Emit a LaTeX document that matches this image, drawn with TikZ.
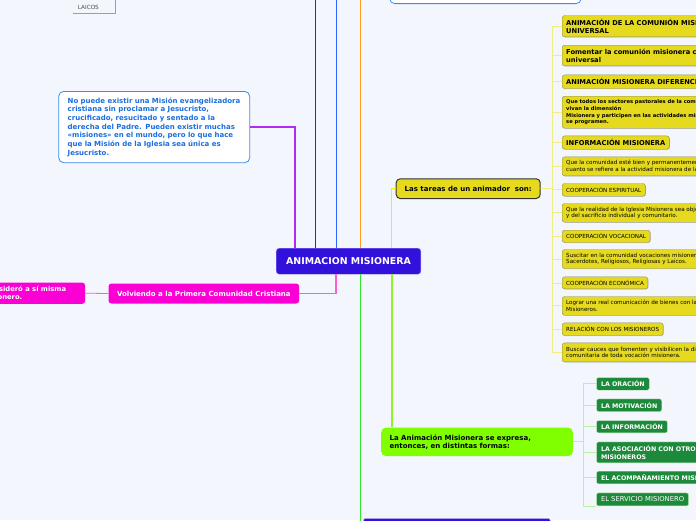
\documentclass[tikz,border=0pt]{standalone}
\usepackage{fontspec}
\setmainfont{DejaVu Sans}
\usepackage{tikz}
\usetikzlibrary{positioning, shadows}
\definecolor{cBg}{HTML}{F3F6FD}
\definecolor{cRoot}{HTML}{3311DD}
\definecolor{cRootLine}{HTML}{A89CF2}
\definecolor{cNote}{HTML}{1A6EE0}
\definecolor{cNoteLine}{HTML}{3C8CF0}
\definecolor{cTask}{HTML}{E6DA1E}
\definecolor{cTaskLine}{HTML}{8C8C66}
\definecolor{cPink}{HTML}{FA00D4}
\definecolor{cLime}{HTML}{80FF00}
\definecolor{cForest}{HTML}{1C8A3A}
\definecolor{cForestLine}{HTML}{CFF0C8}
\definecolor{cLaicos}{HTML}{9D8FF5}
\definecolor{bPurple}{HTML}{B02CF0}
\definecolor{bIndigo}{HTML}{3A18EE}
\definecolor{bBlue}{HTML}{2C66FF}
\definecolor{bOrange}{HTML}{FFA024}
\definecolor{bYellow}{HTML}{F2F000}
\definecolor{bPink}{HTML}{FF5AD8}
\definecolor{bGreen}{HTML}{2EE82E}
\definecolor{bLime}{HTML}{92F22A}
\definecolor{sYellow}{HTML}{F0EE80}
\definecolor{sGreen}{HTML}{B9F0A6}
\tikzset{
	root/.style     ={rectangle, rounded corners=3pt, draw=cRootLine, fill=cRoot, text=white, anchor=north west,
		font=\fontsize{9.4}{11}\selectfont\bfseries, minimum width=144.7pt, minimum height=26pt},
	note/.style     ={rectangle, rounded corners=5pt, draw=cNoteLine, line width=0.8pt, fill=white, text=cNote,
		font=\fontsize{7}{8.65}\selectfont\bfseries, align=left, anchor=north west, inner xsep=9pt,
		text width=173pt, minimum height=71.3pt},
	task/.style     ={rectangle, rounded corners=2.5pt, draw=cTaskLine, fill=cTask, anchor=north west, align=left,
		inner xsep=4pt, inner ysep=1pt, drop shadow={shadow xshift=0.7pt, shadow yshift=-0.7pt, fill=black!30}},
	taskhead/.style ={task, font=\fontsize{6.7}{7.7}\selectfont\bfseries},
	taskmid/.style  ={task, font=\fontsize{5.2}{6.8}\selectfont\bfseries},
	taskline/.style ={task, font=\fontsize{5.6}{6.6}\selectfont},
	heading/.style  ={rectangle, anchor=north west, align=left, inner xsep=8.5pt, font=\fontsize{7}{8.3}\selectfont\bfseries},
	form/.style     ={rectangle, rounded corners=2pt, draw=cForestLine, line width=0.4pt, fill=cForest, text=white,
		anchor=north west, align=left, inner xsep=4.5pt, inner ysep=1pt, font=\fontsize{6.3}{7.5}\selectfont\bfseries},
	branch/.style   ={line width=1.6pt},
	twig/.style     ={line width=0.8pt},
}
\begin{document}
\begin{tikzpicture}[x=1pt, y=-1pt]
	\useasboundingbox (0,0) rectangle (696,520);
	\clip (0,0) rectangle (696,520);
	\fill[cBg] (0,0) rectangle (696,520);

	% centre and first level
	\node[root] (root) at (276,248) {ANIMACION MISIONERA};
	\node[note] (note) at (58.3,91) {No puede existir una Misión evangelizadora\\ cristiana sin proclamar a Jesucristo,\\ crucificado, resucitado y sentado a la\\ derecha del Padre. Pueden existir muchas\\ «misiones» en el mundo, pero lo que hace\\ que la Misión de la Iglesia sea única es\\ Jesucristo.};
	\node[heading, rounded corners=4pt, draw=black!80, line width=1pt, fill=cTask, minimum width=142.6pt, minimum height=19.7pt] (tareas) at (395.7,178.3) {Las tareas de un animador\ \ son:};
	\node[heading, rounded corners=5pt, fill=cLime, text width=174.7pt, minimum height=28.7pt] (anim) at (381,427.3) {La Animación Misionera se expresa,\\ entonces, en distintas formas:};
	\node[heading, rounded corners=3pt, fill=cPink, text=white, minimum width=189.4pt, minimum height=20pt] (volv) at (108.3,283.3) {Volviendo a la Primera Comunidad Cristiana};
	\node[heading, rounded corners=3pt, fill=cPink, text=white, anchor=north east, inner xsep=19pt, minimum height=21.4pt, font=\fontsize{6.8}{7.6}\selectfont\bfseries] (prima) at (85.3,282.3) {La Iglesia primitiva se consideró a sí misma\\ como todo un pueblo misionero.};
	\node[rectangle, rounded corners=5pt, draw=cNoteLine, line width=0.8pt, fill=white, anchor=south west, minimum width=191.4pt, minimum height=40pt] (topbox) at (389.3,4) {};
	\node[rectangle, rounded corners=2pt, draw=cRootLine, fill=cRoot, anchor=north west, minimum width=186.7pt, minimum height=30pt] (below) at (363.3,518.3) {};
	\node[anchor=south west, align=left, text width=33pt, inner xsep=4.4pt, inner ysep=0pt, minimum height=10.6pt, text=black!70, font=\fontsize{5.7}{6.5}\selectfont] (laicos) at (73.3,13) {LAICOS};
	\coordinate (upA) at (315.3,-10);
	\coordinate (upB) at (336.3,-10);
	\coordinate (upC) at (360.3,-10);

	% tareas del animador
	\node[taskhead, minimum height=21.4pt] (t1) at (562,15.3) {ANIMACIÓN DE LA COMUNIÓN MISIONERA\\ UNIVERSAL};
	\node[taskhead, minimum height=20.7pt] (t2) at (562,45) {Fomentar la comunión misionera con la Iglesia\\ universal};
	\node[taskhead, minimum height=13.6pt] (t3) at (562,74.7) {ANIMACIÓN MISIONERA DIFERENCIADA};
	\node[taskmid, minimum height=32pt] (t4) at (562,96) {Que todos los sectores pastorales de la comunidad\\ vivan la dimensión\\ Misionera y participen en las actividades misioneras que\\ se programen.};
	\node[taskhead, minimum height=13.3pt] (t5) at (562,135.7) {INFORMACIÓN MISIONERA};
	\node[taskline, minimum height=19pt] (t6) at (562,156.7) {Que la comunidad esté bien y permanentemente informada en\\ cuanto se refiere a la actividad misionera de la Iglesia.};
	\node[taskline, minimum height=12.7pt] (t7) at (562,183.3) {COOPERACIÓN ESPIRITUAL};
	\node[taskline, minimum height=18.7pt] (t8) at (562,203.3) {Que la realidad de la Iglesia Misionera sea objeto de la oración\\ y del sacrificio individual y comunitario.};
	\node[taskline, minimum height=12.3pt] (t9) at (562,230) {COOPERACIÓN VOCACIONAL};
	\node[taskline, minimum height=19pt] (t10) at (562,249.3) {Suscitar en la comunidad vocaciones misioneras:\\ Sacerdotes, Religiosos, Religiosas y Laicos.};
	\node[taskline, minimum height=12pt] (t11) at (562,276.7) {COOPERACIÓN ECONÓMICA};
	\node[taskline, minimum height=18.7pt] (t12) at (562,296.3) {Lograr una real comunicación de bienes con las Iglesias y\\ Misioneros.};
	\node[taskline, minimum height=12.6pt] (t13) at (562,322.7) {RELACIÓN CON LOS MISIONEROS};
	\node[taskline, minimum height=19pt] (t14) at (562,342.7) {Buscar cauces que fomenten y visibilicen la dimensión\\ comunitaria de toda vocación misionera.};

	% formas de la animacion
	\node[form, minimum height=12.7pt] (f1) at (596.3,377.3) {LA ORACIÓN};
	\node[form, minimum height=12.6pt] (f2) at (596.3,398.7) {LA MOTIVACIÓN};
	\node[form, minimum height=12.4pt] (f3) at (596.3,420.3) {LA INFORMACIÓN};
	\node[form, minimum height=21pt] (f4) at (596.3,441.7) {LA ASOCIACIÓN CON OTROS GRUPOS\\ MISIONEROS};
	\node[form, minimum height=12.7pt] (f5) at (596.3,471) {EL ACOMPAÑAMIENTO MISIONERO};
	\node[form, draw=sGreen, minimum height=13pt, font=\fontsize{6.8}{7.5}\selectfont] (f6) at (596.3,492.7) {EL SERVICIO MISIONERO};

	% branches
	\draw[branch, bPurple] ([xshift=18.7pt]root.north west) |- (note.east);
	\draw[branch, bIndigo] (upA |- root.north) -- (upA);
	\draw[branch, bBlue] (upB |- root.north) -- (upB);
	\draw[branch, bOrange] (upC |- root.north) -- (upC);
	\draw[branch, bYellow] ([xshift=115.3pt]root.north west) |- (tareas.west);
	\draw[branch, bPink] ([xshift=59.7pt]root.south west) |- (volv.east);
	\draw[branch, bGreen] ([xshift=84.3pt]root.south west) |- (below.west);
	\draw[branch, bLime] ([xshift=115.7pt]root.south west) -- ([xshift=10.7pt]anim.north west);
	\draw[twig, bPink] (volv.west) -- (prima.east);
	\draw[cLaicos, line width=0.6pt] (laicos.south west) -- (laicos.south east) -- ++(0,-20);
	\foreach \n in {1,...,14}
		\draw[twig, sYellow] (tareas.east) -- ++(12,0) |- (t\n.west);
	\foreach \n in {1,...,5}
		\draw[twig, sGreen] (anim.east) -- ++(10.6,0) |- (f\n.west);
	\draw[twig, sGreen] (anim.east) -- ++(10.6,0) |- (f6.south west);
\end{tikzpicture}
\end{document}
